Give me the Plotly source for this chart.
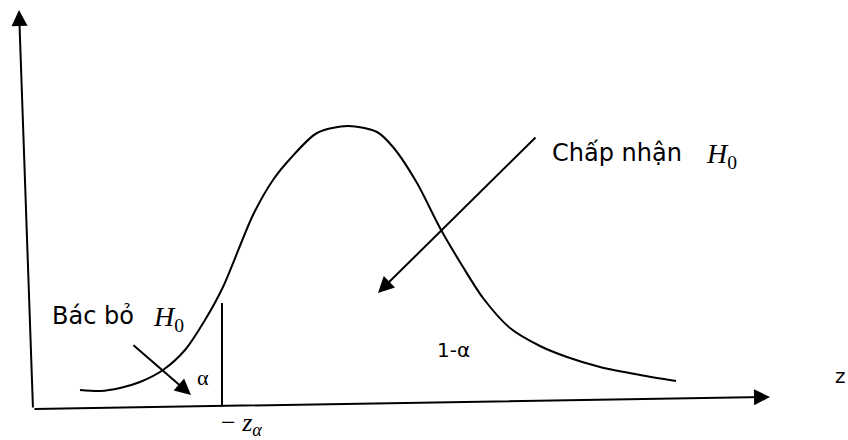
import plotly.graph_objects as go

# Schematic coordinates (x to the right, y downward, matching the drawing)
curve_x = [80, 100, 120, 140, 163, 185, 205, 223, 253, 273, 290, 317, 348, 377, 393, 417, 440, 463, 483, 510, 540, 567, 600, 640, 676]
curve_y = [390, 391, 388, 382, 370, 350, 320, 287, 215, 180, 159, 133, 126, 132, 147, 183, 228, 267, 298, 328, 346, 357, 367, 375, 381]

origin = (33, 409)
y_axis_tip = (19, 10)
x_axis_tip = (770, 397)
crit_x = 222
crit_y = [303, 407]
reject_arrow = [(132, 344), (191, 395)]
accept_arrow = [(537, 136), (378, 293)]

fig = go.Figure()
fig.add_trace(go.Scatter(x=curve_x, y=curve_y, mode="lines",
                         line=dict(color="black", width=2, shape="spline", smoothing=0.8),
                         hoverinfo="skip", showlegend=False))
fig.add_trace(go.Scatter(x=[crit_x, crit_x], y=crit_y, mode="lines",
                         line=dict(color="black", width=2), hoverinfo="skip", showlegend=False))

def arrow(start, end, w=2):
    return dict(x=end[0], y=end[1], ax=start[0], ay=start[1], xref="x", yref="y",
                axref="x", ayref="y", showarrow=True, arrowhead=2, arrowsize=1.6,
                arrowwidth=w, arrowcolor="black", text="")

sans = "DejaVu Sans, Noto Sans, sans-serif"
serif = "Liberation Serif, Times New Roman, serif"

texts = [
    dict(x=50, y=316, text="Bác bỏ", font=dict(family=sans, size=24, color="black")),
    dict(x=151, y=318, text="<i>H</i><sub>0</sub>", font=dict(family=serif, size=28, color="black")),
    dict(x=550, y=153, text="Chấp nhận", font=dict(family=sans, size=24, color="black")),
    dict(x=704, y=155, text="<i>H</i><sub>0</sub>", font=dict(family=serif, size=28, color="black")),
    dict(x=435, y=350, text="1-α", font=dict(family=sans, size=20, color="black")),
    dict(x=195, y=377, text="α", font=dict(family=serif, size=22, color="black")),
]
for a in texts:
    a.update(xref="x", yref="y", showarrow=False, xanchor="left", yanchor="middle")
texts.append(dict(x=840, y=376, text="z", xref="x", yref="y", showarrow=False,
                  xanchor="center", yanchor="middle",
                  font=dict(family=sans, size=20, color="black")))
texts.append(dict(x=219, y=406, text="− <i>z</i><sub><i>α</i></sub>", xref="x", yref="y",
                  showarrow=False, xanchor="left", yanchor="top",
                  font=dict(family=serif, size=26, color="black")))

annotations = [
    arrow(origin, y_axis_tip),
    arrow(origin, x_axis_tip),
    arrow(reject_arrow[0], reject_arrow[1]),
    arrow(accept_arrow[0], accept_arrow[1]),
] + texts

fig.update_layout(
    width=848, height=440, margin=dict(l=0, r=0, t=0, b=0),
    paper_bgcolor="white", plot_bgcolor="white",
    xaxis=dict(range=[0, 848], visible=False, fixedrange=True),
    yaxis=dict(range=[440, 0], visible=False, fixedrange=True),
    annotations=annotations,
    showlegend=False,
)
fig.write_html("out.html", config={"displayModeBar": False},
               post_script="document.body.style.margin='0';document.body.style.overflow='hidden';")
